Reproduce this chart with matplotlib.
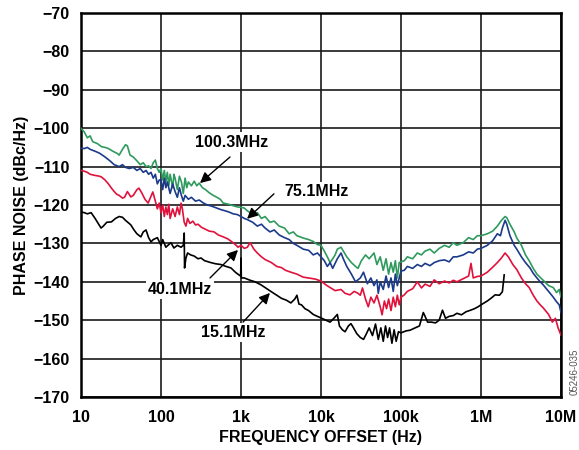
import numpy as np
import matplotlib
matplotlib.use("Agg")
import matplotlib.pyplot as plt

plt.rcParams['font.family'] = ['Liberation Sans', 'DejaVu Sans']
plt.rcParams['font.weight'] = 'bold'

# 100.3MHz trace (green)
green_f = [10, 11, 12, 13, 14, 16, 18, 20, 22, 25, 28, 30, 33, 36, 38, 41, 45, 50, 55, 60,
           65, 70, 75, 80, 85, 90, 95, 100, 105, 110, 115, 120, 125, 130, 140, 145, 150, 160,
           170, 180, 190, 200, 210, 220, 240, 260, 280, 300, 330, 360, 400, 450, 500, 550,
           600, 700, 800, 900, 1000, 1100, 1200, 1400, 1600, 1800, 2000, 2300, 2600, 3000,
           3500, 4000, 4500, 5000, 6000, 7000, 8000, 9000, 10e3, 11e3, 12e3, 13e3, 14e3,
           15e3, 16e3, 17.8e3, 19e3, 21e3, 24e3, 27e3, 29e3, 32e3, 36e3, 40e3, 46e3, 50e3,
           55e3, 60e3, 65e3, 70e3, 75e3, 80e3, 85e3, 90e3, 95e3, 100e3, 110e3, 120e3, 140e3,
           160e3, 180e3, 200e3, 230e3, 260e3, 300e3, 350e3, 400e3, 450e3, 500e3, 600e3,
           700e3, 800e3, 900e3, 1e6, 1.2e6, 1.4e6, 1.6e6, 1.8e6, 2e6, 2.1e6, 2.3e6, 2.6e6,
           2.8e6, 3.2e6, 3.6e6, 4e6, 4.5e6, 5e6, 5.6e6, 6.3e6, 7e6, 8e6, 8.8e6, 9.5e6, 10e6]
green_db = [-100, -101, -102.5, -102, -103.5, -104, -104.8, -105, -105.3, -106, -106.5, -107,
            -105.5, -104.3, -104.6, -107, -107.5, -108.5, -109.5, -109, -110, -109.8, -110.5,
            -109, -108.3, -110.5, -111.5, -110.5, -113.5, -111, -114, -111.5, -115, -112,
            -115.5, -112, -113, -116, -112.5, -114, -117, -113, -115.5, -114, -115, -113.8,
            -115, -114.3, -115.5, -116, -116.8, -117.5, -118, -118.5, -119.5, -119.8, -120.2,
            -120.5, -120.6, -120.8, -121.5, -122.5, -122, -123.5, -123, -124.5, -124.2,
            -125.5, -126, -127.5, -127, -128, -128.6, -129, -129.5, -130.3, -130.5, -132,
            -133.5, -135, -134, -133, -131.5, -131, -132, -133.5, -135, -136, -136.5, -134.5,
            -133, -134, -132.5, -135.5, -133.5, -137, -134, -138, -135, -137.5, -134.5, -139,
            -135, -134.8, -134.5, -133.5, -134, -132.5, -133, -132, -131.5, -132.5, -131.3,
            -130.5, -131, -129.8, -130.5, -129.8, -128.5, -129, -128, -128, -127.5, -126.8,
            -125.5, -124, -123, -123.3, -125, -127, -128.6, -130.5, -133, -134.5, -136.5,
            -138, -139, -140, -141, -141.5, -142.8, -142, -144]

# 75.1MHz trace (blue)
blue_f = [10, 11, 12, 13, 15, 17, 20, 23, 26, 30, 33, 36, 40, 45, 50, 55, 60, 65, 70, 75, 80,
          85, 90, 95, 100, 105, 110, 115, 120, 130, 140, 150, 160, 170, 180, 190, 200, 220,
          240, 270, 300, 340, 380, 430, 500, 560, 630, 700, 800, 900, 1000, 1100, 1200, 1400,
          1600, 1800, 2000, 2300, 2600, 3000, 3500, 4000, 4500, 5000, 6000, 7000, 8000, 9000,
          10e3, 11e3, 12e3, 13e3, 14e3, 16e3, 17.8e3, 19e3, 21e3, 24e3, 27e3, 31e3, 34e3,
          38e3, 42e3, 46e3, 50e3, 52e3, 55e3, 60e3, 65e3, 70e3, 75e3, 80e3, 85e3, 90e3, 95e3,
          100e3, 110e3, 120e3, 140e3, 160e3, 180e3, 200e3, 230e3, 260e3, 300e3, 350e3, 400e3,
          450e3, 500e3, 600e3, 700e3, 800e3, 900e3, 1e6, 1.2e6, 1.4e6, 1.6e6, 1.75e6, 1.85e6,
          2e6, 2.1e6, 2.3e6, 2.6e6, 2.8e6, 3.2e6, 3.6e6, 4.1e6, 4.5e6, 5e6, 5.5e6, 6e6, 7e6,
          8e6, 8.8e6, 9.5e6, 10e6]
blue_db = [-105.2, -105.3, -105, -105.5, -106, -106.5, -107.5, -108.5, -109.5, -110, -109.5,
           -110.2, -110.5, -110.2, -111, -110.5, -111.5, -111, -112, -111.5, -113, -112,
           -114.5, -113.5, -113.5, -116, -113, -115.5, -114, -117, -114.5, -116.5, -118,
           -115.5, -117.5, -119, -117.5, -118.5, -118, -119, -118.7, -119.5, -120, -120.3,
           -120.8, -121.2, -121.5, -121.8, -122.3, -122.5, -123, -123.5, -123.8, -124.5,
           -125.5, -125, -126, -127, -126.5, -127.8, -128.5, -129, -130, -130.5, -131.5,
           -131.8, -133, -132.5, -133.5, -134.5, -136, -135, -136.5, -134, -132.5, -134, -136,
           -138, -140, -139, -137.5, -140.5, -139, -141, -139.5, -143, -140, -142, -138.5,
           -141.5, -139, -142.5, -138, -141, -139, -137.2, -137, -136, -136.5, -135.5, -136,
           -135.2, -135.8, -135, -134.5, -134.3, -134.8, -133.5, -133.5, -133, -132.2, -132.5,
           -131.5, -131.3, -130.5, -129.3, -127.5, -128, -126, -124, -125, -128, -130.5,
           -131.5, -133.5, -135, -136.4, -137.8, -139, -140, -140.8, -142.5, -144, -145.2,
           -146, -148]

# 40.1MHz trace (red)
red_f = [10, 11, 12, 13, 15, 17, 18, 20, 22, 24, 26, 28, 30, 33, 35, 38, 42, 45, 50, 53, 58,
         63, 69, 74, 79, 85, 90, 95, 100, 105, 110, 115, 120, 125, 130, 140, 150, 160, 170,
         178, 185, 195, 205, 215, 230, 250, 270, 290, 320, 350, 400, 460, 520, 600, 680, 760,
         850, 920, 1000, 1100, 1200, 1300, 1450, 1600, 1800, 2000, 2400, 2800, 3200, 3600,
         4200, 5000, 6000, 7000, 8500, 10e3, 11.5e3, 13e3, 15e3, 17.8e3, 20e3, 23e3, 26e3,
         29e3, 31e3, 33e3, 36e3, 39e3, 42e3, 46e3, 50e3, 55e3, 58e3, 62e3, 66e3, 70e3, 75e3,
         80e3, 85e3, 90e3, 95e3, 100e3, 110e3, 120e3, 140e3, 160e3, 180e3, 200e3, 230e3,
         260e3, 300e3, 350e3, 400e3, 450e3, 500e3, 600e3, 700e3, 750e3, 800e3, 900e3, 1e6,
         1.2e6, 1.4e6, 1.6e6, 1.8e6, 2e6, 2.2e6, 2.5e6, 2.8e6, 3.2e6, 3.6e6, 4e6, 4.5e6, 5e6,
         5.5e6, 6e6, 7e6, 7.8e6, 8.5e6, 9.2e6, 10e6]
red_db = [-111, -111.2, -111.5, -112, -112.3, -112.5, -112.7, -113.5, -114.5, -115.6, -116.5,
          -117.2, -117.5, -118.2, -118, -116.5, -117.9, -117.5, -116, -115.6, -117, -118.5,
          -119.5, -118, -116.6, -119, -121, -119.5, -122, -120, -123, -120.5, -122.5, -119.8,
          -123.5, -121, -123, -120.5, -122.5, -119.5, -121, -124.5, -125.5, -123.5, -124.8,
          -124.2, -125.2, -125, -125.8, -126.2, -126.8, -127, -127.8, -128.3, -128.8, -129.5,
          -130.3, -131, -130.5, -131.3, -131, -129.8, -131.5, -132.5, -133.5, -134.2, -135,
          -136, -136.3, -137, -137.5, -138, -138.8, -139, -139.3, -139.8, -140.8, -141.5,
          -142.3, -142, -143, -143.4, -142.5, -143, -143.5, -141.6, -144.5, -146.5, -144,
          -145.5, -143.5, -146.5, -148.6, -145, -147, -144.5, -147.5, -144, -146.5, -143.5,
          -146, -144, -143.4, -142.5, -141.8, -140, -141.6, -140.6, -141.2, -139.5, -140.5,
          -139.8, -140.3, -139.6, -140, -139.2, -138.5, -135.2, -139, -138.6, -138.5, -137.5,
          -136.2, -135, -133.8, -132.5, -133.5, -135.5, -136.8, -139, -140.5, -141.5, -143.5,
          -145, -146, -146.8, -148.5, -150.5, -149.5, -152, -153.9]

# 15.1MHz trace (black)
black_f = [10, 11, 12, 13.4, 15, 17.8, 19, 21, 24, 27, 30, 33, 36, 40, 42, 46, 50, 56, 60, 65,
           70, 75, 80, 90, 100, 105, 115, 125, 133, 145, 160, 178, 190, 195, 197, 205, 215,
           235, 260, 290, 316, 350, 420, 480, 560, 650, 750, 850, 940, 990, 1000, 1010, 1100,
           1300, 1500, 1780, 2000, 2400, 2800, 3200, 3700, 4200, 4700, 5000, 5300, 5700, 6300,
           7000, 8000, 9000, 10e3, 11.5e3, 13e3, 14.5e3, 16e3, 17e3, 18.5e3, 20e3, 22e3,
           23.7e3, 25.5e3, 28e3, 31e3, 34e3, 37e3, 40e3, 44e3, 48e3, 52e3, 56e3, 60e3, 64e3,
           68e3, 72e3, 77e3, 82e3, 87e3, 93e3, 100e3, 115e3, 130e3, 150e3, 170e3, 190e3,
           200e3, 215e3, 240e3, 270e3, 300e3, 330e3, 360e3, 400e3, 450e3, 500e3, 570e3,
           650e3, 740e3, 830e3, 920e3, 1e6, 1.2e6, 1.35e6, 1.5e6, 1.7e6, 1.85e6, 1.95e6]
black_db = [-121.8, -122, -122.3, -122, -123.5, -126, -125.5, -124.5, -124.4, -123.5, -123,
            -123.2, -124, -124.8, -125.2, -126.5, -127.5, -128.3, -127, -126.5, -128.5,
            -129.6, -129, -128.5, -130.5, -129, -131, -130.3, -129.8, -131.2, -130.5, -131,
            -130.5, -127.3, -136.4, -133.8, -132.5, -133, -133.3, -134, -133.8, -134.5, -135,
            -135.3, -135.5, -136, -136.4, -137.5, -138.2, -138.5, -133.8, -139, -139, -139.6,
            -140, -140.8, -141.5, -142.6, -143.5, -144.3, -144.8, -145.5, -144.5, -143.5,
            -145.8, -146, -147, -147.5, -148.5, -149, -149.4, -150, -150.5, -149.5, -148.5,
            -151.5, -152.5, -153, -151.5, -150.9, -152, -153.5, -154.5, -155, -153.5, -152,
            -154, -151, -155, -152, -155.5, -151.5, -154.5, -152, -156, -152.5, -155.5, -153,
            -153.3, -152.8, -152.6, -152, -151.5, -148, -149, -150.5, -150.5, -150.7, -150,
            -147.4, -149.5, -149, -148.8, -148.2, -148.6, -147.8, -147.4, -147, -146.5, -146,
            -145, -144.2, -143.4, -143.5, -142.6, -138.2]

x_ticks = [10, 100, 1e3, 1e4, 1e5, 1e6, 1e7]
x_ticklabels = ['10', '100', '1k', '10k', '100k', '1M', '10M']
y_ticks = [-170, -160, -150, -140, -130, -120, -110, -100, -90, -80, -70]

fig = plt.figure(figsize=(5.79, 4.5), dpi=100)
ax = fig.add_axes([81 / 579, 1 - 397 / 450, 480 / 579, 384 / 450])

ax.plot(green_f, green_db, color='#2f9a5e', lw=1.2, zorder=3)
ax.plot(blue_f, blue_db, color='#1b3a8a', lw=1.2, zorder=4)
ax.plot(red_f, red_db, color='#e0123c', lw=1.2, zorder=5)
ax.plot(black_f, black_db, color='black', lw=1.2, zorder=6)

ax.set_xscale('log')
ax.set_xlim(10, 1e7)
ax.set_ylim(-170, -70)
ax.set_xticks(x_ticks)
ax.set_xticklabels(x_ticklabels)
ax.set_yticks(y_ticks)
ax.set_yticklabels([str(v).replace('-', '\u2212') for v in y_ticks])
ax.minorticks_off()
ax.tick_params(length=0, labelsize=11.5)
ax.tick_params(axis='y', pad=8)
ax.tick_params(axis='x', pad=9)
ax.grid(True, color='#1a1a1a', lw=1.2, zorder=1)
for s in ax.spines.values():
    s.set_linewidth(1.8)

ax.set_xlabel('FREQUENCY OFFSET (Hz)', fontsize=11.5, fontweight='bold')
ax.xaxis.set_label_coords(0.5, -0.106)
ax.xaxis.label.set_verticalalignment('center')
ax.set_ylabel('PHASE NOISE (dBc/Hz)', fontsize=11.5, fontweight='bold')
ax.yaxis.set_label_coords(-0.125, 0.5)
ax.yaxis.label.set_verticalalignment('center')

# labels with arrows: (text, text pos, arrow tail, arrow tip)
labels = [
    ('100.3MHz', (772, -103.6), (729, -107.5), (307, -114.3)),
    ('75.1MHz', (8900, -116.6), (2580, -117.1), (1190, -123.6)),
    ('40.1MHz', (173, -141.9), (410, -139.0), (917, -131.7)),
    ('15.1MHz', (794, -153.1), (1060, -150.5), (2300, -142.9)),
]
for txt, pos, tail, tip in labels:
    ax.text(pos[0], pos[1], txt, fontsize=11.5, fontweight='bold', ha='center', va='center',
            bbox=dict(facecolor='white', edgecolor='none', pad=1.5), zorder=8)
    ax.annotate('', xy=tip, xytext=tail,
                arrowprops=dict(arrowstyle='-|>', color='black', lw=1.0,
                                mutation_scale=16, shrinkA=0, shrinkB=0), zorder=9)

fig.text(575 / 579, 1 - 372 / 450, '05246-035', rotation=90, fontsize=7,
         fontweight='normal', color='#555555', ha='center', va='center')

fig.savefig('out.png', dpi=100)
